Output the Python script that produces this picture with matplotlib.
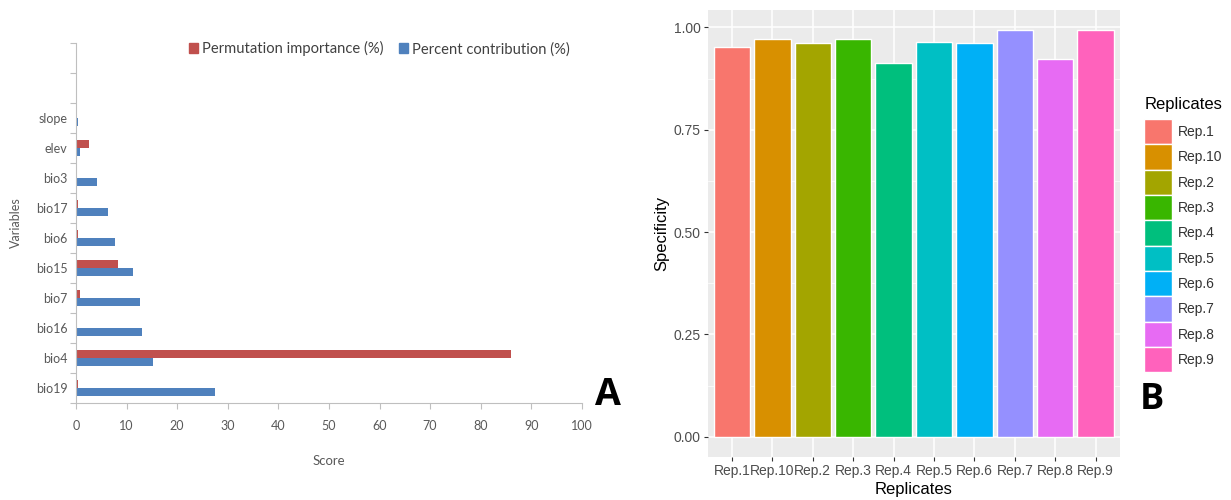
import matplotlib.pyplot as plt
from matplotlib.patches import Patch

# --- panel A: variable contribution (MaxEnt style) ---
variables = ['bio19', 'bio4', 'bio16', 'bio7', 'bio15', 'bio6', 'bio17',
             'bio3', 'elev', 'slope', '', '']
contribution = [27.5, 15.2, 13.1, 12.7, 11.2, 7.7, 6.4, 4.1, 0.8, 0.4, 0, 0]
permutation = [0.4, 86.0, 0.0, 0.8, 8.3, 0.4, 0.5, 0.2, 2.6, 0.0, 0, 0]

# --- panel B: specificity per replicate ---
replicates = ['Rep.1', 'Rep.10', 'Rep.2', 'Rep.3', 'Rep.4',
              'Rep.5', 'Rep.6', 'Rep.7', 'Rep.8', 'Rep.9']
specificity = [0.952, 0.972, 0.963, 0.972, 0.913,
               0.964, 0.963, 0.993, 0.924, 0.993]
rep_colors = ['#F8766D', '#D89000', '#A3A500', '#39B600', '#00BF7D',
              '#00BFC4', '#00B0F6', '#9590FF', '#E76BF3', '#FF62BC']

fig = plt.figure(figsize=(12.31, 5.0), dpi=100)

# ---------------- A ----------------
axA = fig.add_axes([0.0617, 0.194, 0.411, 0.72])
red, blue = '#C0504D', '#4F81BD'
pos = range(len(variables))
axA.barh([p + 0.14 for p in pos], permutation, height=0.28, color=red)
axA.barh([p - 0.14 for p in pos], contribution, height=0.28, color=blue)

axA.set_xlim(0, 100)
axA.set_ylim(-0.5, len(variables) - 0.5)
axA.set_xticks(range(0, 101, 10))
# ticks sit on category boundaries, labels in the middle
axA.set_yticks([p - 0.5 for p in range(len(variables) + 1)])
axA.set_yticklabels([])
axA.set_yticks(list(pos), minor=True)
axA.set_yticklabels(variables, minor=True)
axA.tick_params(axis='y', which='minor', length=0, pad=6)
axA.tick_params(axis='both', which='major', length=4, color='#BFBFBF',
                labelcolor='#595959')
axA.tick_params(axis='y', which='minor', labelcolor='#595959')
for lab in axA.get_xticklabels() + axA.get_yticklabels(minor=True):
    lab.set_fontfamily('Lato')
    lab.set_fontsize(9)
axA.tick_params(axis='x', pad=8)
for side in ['top', 'right']:
    axA.spines[side].set_visible(False)
for side in ['left', 'bottom']:
    axA.spines[side].set_color('#BFBFBF')
axA.set_xlabel('Score', fontsize=9.5, family='Lato', color='#595959', labelpad=17)
axA.set_ylabel('Variables', fontsize=9, family='Lato', color='#595959', labelpad=10)

legA = fig.legend(handles=[Patch(color=red, label='Permutation importance (%)'),
                           Patch(color=blue, label='Percent contribution (%)')],
                  loc='upper left', bbox_to_anchor=(176 / 1231, 1 - 28 / 500),
                  ncol=2, frameon=False, handlelength=0.6, handleheight=0.7,
                  handletextpad=0.3, columnspacing=1.0,
                  prop={'family': 'Lato', 'size': 10.6})
for t in legA.get_texts():
    t.set_color('#404040')

fig.text(595 / 1231, 1 - 405 / 500, 'A', fontsize=27, fontweight='bold',
         family='Open Sans', va='baseline')

# ---------------- B ----------------
axB = fig.add_axes([0.575, 0.086, 0.3347, 0.894])
x = range(len(replicates))
axB.bar(x, specificity, width=0.9, color=rep_colors, edgecolor='white',
        linewidth=1.0, zorder=3)
axB.set_facecolor('#EBEBEB')
axB.set_xlim(-0.6, len(replicates) - 0.4)
axB.set_ylim(-0.0497, 1.0427)
axB.set_yticks([0, 0.25, 0.5, 0.75, 1.0])
axB.set_yticklabels(['0.00', '0.25', '0.50', '0.75', '1.00'])
axB.set_yticks([0.125, 0.375, 0.625, 0.875], minor=True)
axB.set_xticks(list(x))
axB.set_xticklabels(replicates)
axB.grid(which='major', color='white', linewidth=1.1, zorder=0)
axB.grid(which='minor', axis='y', color='white', linewidth=0.5, zorder=0)
axB.set_axisbelow(True)
for s in axB.spines.values():
    s.set_visible(False)
axB.tick_params(axis='both', which='major', length=3, width=0.8,
                color='#333333', labelcolor='#4D4D4D', labelsize=10, pad=2)
axB.tick_params(axis='y', which='minor', length=0)
for lab in axB.get_xticklabels() + axB.get_yticklabels():
    lab.set_fontfamily('Liberation Sans')
axB.set_xlabel('Replicates', fontsize=12, family='Liberation Sans', labelpad=3)
axB.set_ylabel('Specificity', fontsize=12, family='Liberation Sans', labelpad=3)

# colour key; title placed separately to leave the ggplot-style gap
fig.text(1145 / 1231, 1 - 105 / 500, 'Replicates', fontsize=12,
         family='Liberation Sans', va='center')
legB = fig.legend(handles=[Patch(facecolor=c, edgecolor='white', linewidth=1.0,
                                 label=r) for c, r in zip(rep_colors, replicates)],
                  loc='upper left', bbox_to_anchor=(1144 / 1231, 1 - 119 / 500),
                  frameon=False, handlelength=2.0, handleheight=2.43,
                  labelspacing=0.0, handletextpad=0.45, borderpad=0,
                  borderaxespad=0,
                  prop={'family': 'Liberation Sans', 'size': 10})
for t in legB.get_texts():
    t.set_color('#333333')

fig.text(1140 / 1231, 1 - 409 / 500, 'B', fontsize=26, fontweight='bold',
         family='Open Sans', va='baseline')

fig.savefig('out.png', dpi=100)
